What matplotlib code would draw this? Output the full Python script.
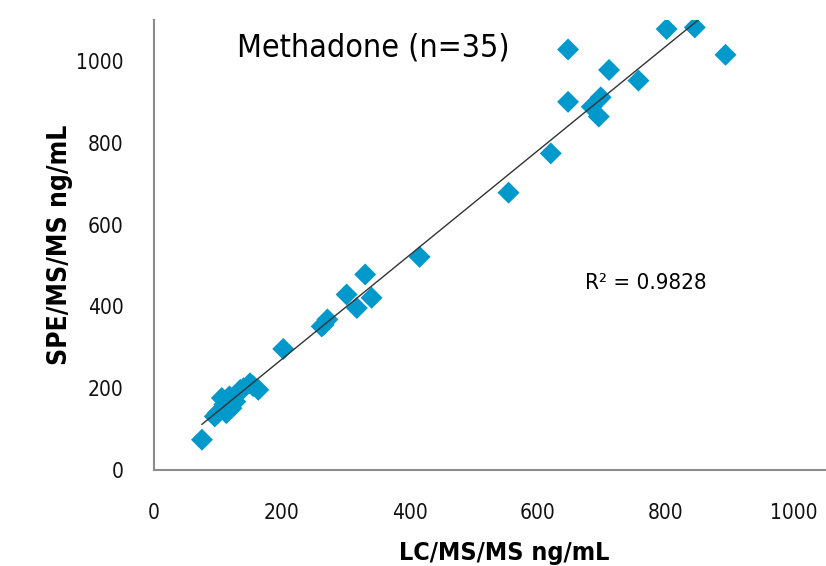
import numpy as np
import matplotlib
matplotlib.use("Agg")
import matplotlib.pyplot as plt

# ─── Data ────────────────────────────────────────────────────────────────────
lcms = [75, 95, 100, 106, 110, 113, 118, 121, 127, 135, 140, 150, 155, 163,
        202, 262, 265, 271, 301, 317, 330, 340, 415, 554, 620, 647, 647,
        684, 695, 698, 711, 757, 801, 845, 893]
spe = [74, 131, 140, 176, 160, 139, 180, 151, 167, 196, 200, 212, 205, 196,
       296, 351, 355, 368, 429, 396, 478, 421, 521, 678, 774, 1028, 900,
       888, 864, 911, 978, 952, 1078, 1082, 1015]

title = "Methadone (n=35)"
xlabel = "LC/MS/MS ng/mL"
ylabel = "SPE/MS/MS ng/mL"
ticks = [0, 200, 400, 600, 800, 1000]

# narrow face to get close to the original condensed type
plt.rcParams["font.family"] = ["DejaVu Sans"]
plt.rcParams["font.stretch"] = "condensed"

fig = plt.figure(figsize=(8.26, 5.66), dpi=100)
ax = fig.add_axes([0.1864, 0.1696, 0.8136, 0.795])

x = np.array(lcms, dtype=float)
y = np.array(spe, dtype=float)

# linear trendline, as in the spreadsheet
slope, icpt = np.polyfit(x, y, 1)
xx = np.array([x.min(), x.max()])
ax.plot(xx, slope * xx + icpt, color="#333333", lw=1.0, zorder=3)

ax.scatter(x, y, marker="D", s=125, color="#0099CC", edgecolors="none", zorder=2)

ax.set_xlim(0, 1050)
ax.set_ylim(0, 1100)
ax.set_xticks(ticks)
ax.set_yticks(ticks)
ax.tick_params(length=0, labelsize=15, colors="#111111")
ax.tick_params(axis="y", pad=22)
ax.tick_params(axis="x", pad=24)

for side in ("top", "right"):
    ax.spines[side].set_visible(False)
for side in ("left", "bottom"):
    ax.spines[side].set_color("#8c8c8c")
    ax.spines[side].set_linewidth(1.5)

ax.set_xlabel(xlabel, fontsize=18, fontweight="bold")
ax.set_ylabel(ylabel, fontsize=19, fontweight="bold")
ax.xaxis.set_label_coords(0.521, -0.157)
ax.yaxis.set_label_coords(-0.121, 0.5)

ax.text(0.1235, 0.938, title, transform=ax.transAxes, fontsize=23, va="center", ha="left")
ax.text(768, 458, "R² = 0.9828", fontsize=16, va="center", ha="center")

fig.savefig("out.png", dpi=100)
